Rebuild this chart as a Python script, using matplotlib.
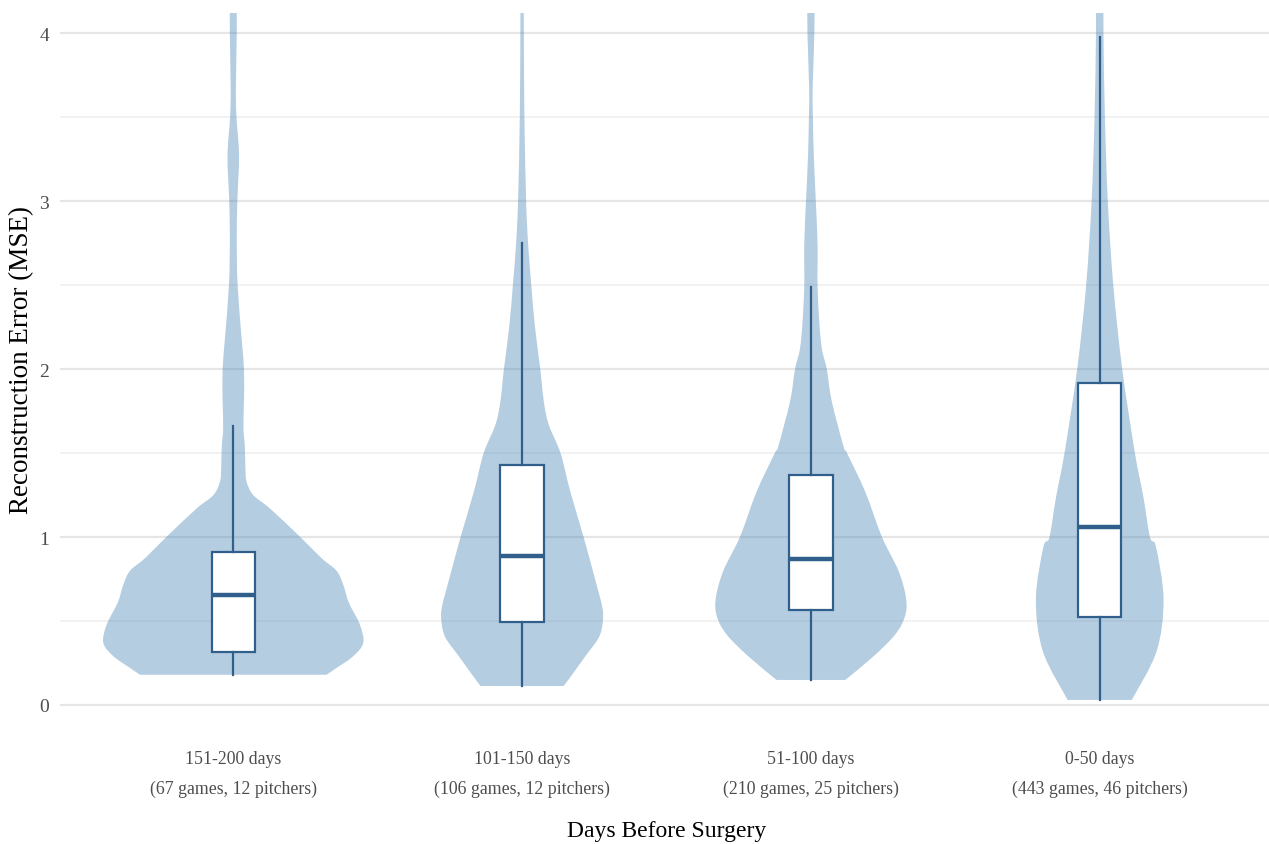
import matplotlib
matplotlib.use("Agg")
import matplotlib.pyplot as plt
from matplotlib.path import Path
from matplotlib.patches import PathPatch
from matplotlib.ticker import MultipleLocator

plt.rcParams["font.family"] = ["Liberation Serif", "DejaVu Serif"]

# Groups, in plotting order
groups = ["151-200 days", "101-150 days", "51-100 days", "0-50 days"]
n_games = [67, 106, 210, 443]
n_pitchers = [12, 12, 25, 46]

# Box-plot summaries of reconstruction error (MSE)
whisker_lo = [0.18, 0.113, 0.149, 0.03]
q1 = [0.315, 0.494, 0.565, 0.524]
median = [0.655, 0.887, 0.869, 1.06]
q3 = [0.911, 1.43, 1.37, 1.917]
whisker_hi = [1.66, 2.75, 2.49, 3.976]

# Violin outlines: error levels and density half-widths (in category units)
violin_y_151_200 = [0.18, 0.22, 0.29, 0.37, 0.48, 0.61, 0.72, 0.80, 0.875, 1.0,
                    1.17, 1.25, 1.33, 1.41, 1.54, 1.65, 1.81, 2.0, 2.18, 2.5,
                    2.76, 3.0, 3.27, 3.5, 3.67, 4.0, 4.3]
violin_w_151_200 = [0.323, 0.357, 0.415, 0.45, 0.438, 0.40, 0.38, 0.357, 0.305, 0.232,
                    0.127, 0.069, 0.046, 0.042, 0.040, 0.035, 0.037, 0.037, 0.029, 0.015,
                    0.012, 0.014, 0.020, 0.011, 0.009, 0.012, 0.012]

violin_y_101_150 = [0.113, 0.18, 0.29, 0.40, 0.49, 0.58, 0.74, 1.0, 1.27, 1.5,
                    1.67, 1.81, 2.0, 2.26, 2.5, 2.74, 3.0, 3.5, 4.0, 4.3]
violin_w_101_150 = [0.144, 0.173, 0.219, 0.265, 0.279, 0.278, 0.254, 0.213, 0.167, 0.133,
                    0.092, 0.075, 0.063, 0.044, 0.032, 0.021, 0.014, 0.008, 0.006, 0.005]

violin_y_51_100 = [0.149, 0.29, 0.42, 0.53, 0.64, 0.80, 1.0, 1.27, 1.5, 1.54,
                   1.81, 2.0, 2.12, 2.28, 2.5, 2.74, 3.0, 3.27, 3.5, 3.67,
                   4.0, 4.3]
violin_w_51_100 = [0.119, 0.217, 0.292, 0.326, 0.329, 0.303, 0.246, 0.188, 0.125, 0.113,
                   0.072, 0.055, 0.038, 0.029, 0.023, 0.023, 0.017, 0.010, 0.007, 0.006,
                   0.012, 0.013]

violin_y_0_50 = [0.03, 0.32, 0.63, 0.94, 1.0, 1.24, 1.5, 2.0, 2.5, 3.0,
                 3.5, 4.0, 4.3]
violin_w_0_50 = [0.111, 0.197, 0.221, 0.195, 0.174, 0.151, 0.122, 0.078, 0.047, 0.028,
                 0.018, 0.013, 0.013]

violin_ys = [violin_y_151_200, violin_y_101_150, violin_y_51_100, violin_y_0_50]
violin_ws = [violin_w_151_200, violin_w_101_150, violin_w_51_100, violin_w_0_50]

tick_labels = [f"{g}\n({n} games, {p} pitchers)"
               for g, n, p in zip(groups, n_games, n_pitchers)]

violin_color = "steelblue"
box_color = "#2f5f8a"


def smooth_segments(pts):
    """Cubic Bezier segments passing through pts (Catmull-Rom tangents)."""
    verts, codes = [], []
    n = len(pts)
    for i in range(n - 1):
        p0 = pts[max(i - 1, 0)]
        p1 = pts[i]
        p2 = pts[i + 1]
        p3 = pts[min(i + 2, n - 1)]
        c1 = (p1[0] + (p2[0] - p0[0]) / 6, p1[1] + (p2[1] - p0[1]) / 6)
        c2 = (p2[0] - (p3[0] - p1[0]) / 6, p2[1] - (p3[1] - p1[1]) / 6)
        verts += [c1, c2, p2]
        codes += [Path.CURVE4] * 3
    return verts, codes


def violin_path(pos, ys, ws):
    right = [(pos + w, y) for y, w in zip(ys, ws)]
    left = [(pos - w, y) for y, w in zip(ys[::-1], ws[::-1])]
    verts = [right[0]]
    codes = [Path.MOVETO]
    v, c = smooth_segments(right)
    verts += v
    codes += c
    verts.append(left[0])
    codes.append(Path.LINETO)
    v, c = smooth_segments(left)
    verts += v
    codes += c
    verts.append(right[0])
    codes.append(Path.CLOSEPOLY)
    return Path(verts, codes)


W, H = 1269, 845
fig = plt.figure(figsize=(W / 100, H / 100), dpi=100)
left_px, right_px, top_px, bottom_px = 60, 1273, 14, 708
ax = fig.add_axes([left_px / W, 1 - bottom_px / H,
                   (right_px - left_px) / W, (bottom_px - top_px) / H])

positions = list(range(1, len(groups) + 1))

for pos, ys, ws in zip(positions, violin_ys, violin_ws):
    patch = PathPatch(violin_path(pos, ys, ws), facecolor=violin_color,
                      alpha=0.4, linewidth=0, zorder=2)
    ax.add_patch(patch)

stats = [dict(whislo=a, q1=b, med=c, q3=d, whishi=e, fliers=[])
         for a, b, c, d, e in zip(whisker_lo, q1, median, q3, whisker_hi)]
ax.bxp(stats, positions=positions, widths=0.15, showfliers=False,
       showcaps=False, patch_artist=True,
       boxprops=dict(facecolor="white", edgecolor=box_color, linewidth=1.6),
       medianprops=dict(color=box_color, linewidth=3.2, solid_capstyle="butt"),
       whiskerprops=dict(color=box_color, linewidth=1.6),
       zorder=3)

ax.set_xlim(0.4, 4.6)
ax.set_ylim(-0.012, 4.12)
ax.yaxis.set_major_locator(MultipleLocator(1))
ax.yaxis.set_minor_locator(MultipleLocator(0.5))
ax.grid(axis="y", which="major", color="#e6e6e6", linewidth=1.6)
ax.grid(axis="y", which="minor", color="#f0f0f0", linewidth=1.2)
ax.set_axisbelow(True)
for s in ax.spines.values():
    s.set_visible(False)

ax.set_xticks(positions)
ax.set_xticklabels(tick_labels, linespacing=1.95)
ax.tick_params(axis="both", which="both", length=0, labelcolor="#4d4d4d")
ax.tick_params(axis="x", labelsize=12.8, pad=31)
ax.tick_params(axis="y", labelsize=14, pad=8)

fig.text((left_px + right_px) / 2 / W, 1 - 832 / H, "Days Before Surgery",
         ha="center", va="center", fontsize=17, color="black")
fig.text(22 / W, 1 - 360 / H, "Reconstruction Error (MSE)", rotation=90,
         ha="center", va="center", fontsize=19.5, color="black")

fig.savefig("out.png", dpi=100, facecolor="white")
